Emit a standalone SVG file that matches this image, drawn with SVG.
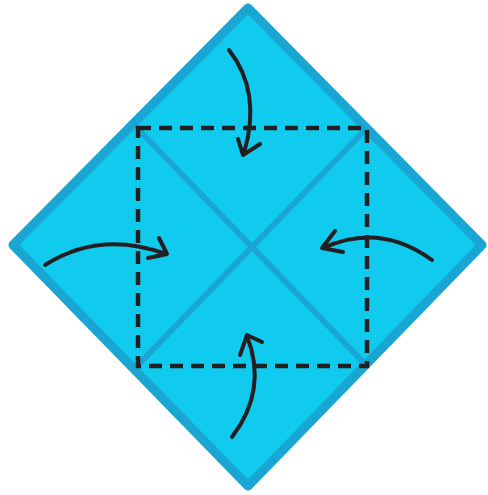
<svg xmlns="http://www.w3.org/2000/svg" width="488" height="495" viewBox="0 0 488 495">
<style>
.paper{fill:#10CBEE;stroke:#1AA6D2;stroke-width:9;stroke-linejoin:round}
.crease{stroke:#1AA6D2;stroke-width:6;fill:none;stroke-linecap:round}
.dash{stroke:#231F20;stroke-width:4.5;fill:none;stroke-dasharray:13 8}
.arrow{stroke:#231F20;stroke-width:4;fill:none;stroke-linecap:round;stroke-linejoin:round}
</style>
<rect width="488" height="495" fill="#fff"/>
<g id="paper">
<polygon class="paper" points="248,8 482,245 248,486 13,245"/>
</g>
<g id="creases">
<line class="crease" x1="140" y1="131" x2="364" y2="363"/>
<line class="crease" x1="364" y1="131" x2="140" y2="363"/>
</g>
<g id="fold-square">
<rect class="dash" x="138" y="128" width="229" height="238"/>
</g>
<g id="connectors">
<g id="arrow-top">
<path class="arrow" d="M229,50 Q262,92 244,153"/>
<path class="arrow" d="M238,139 L243,155 L260,144"/>
</g>
<g id="arrow-left">
<path class="arrow" d="M45,265 Q100,230 166,254"/>
<path class="arrow" d="M159,238 L167,254 L148,258"/>
</g>
<g id="arrow-right">
<path class="arrow" d="M432,260 Q380,222 323,248"/>
<path class="arrow" d="M335,231 L322,248 L343,252"/>
</g>
<g id="arrow-bottom">
<path class="arrow" d="M232,437 Q268,390 247,336"/>
<path class="arrow" d="M240,355 L247,335 L262,342"/>
</g>
</g>
</svg>
